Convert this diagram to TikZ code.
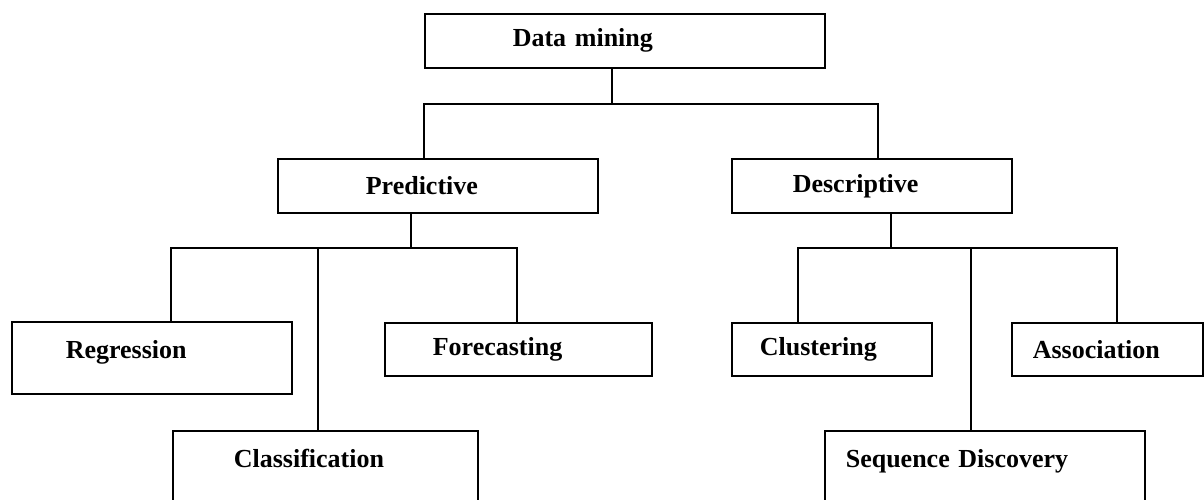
\documentclass[tikz,border=0pt]{standalone}
\usepackage{fontspec}
\setmainfont{Liberation Serif}

\tikzset{
  box/.style={draw,line width=1.6pt,rectangle,anchor=north west,align=left,inner ysep=0pt,
    font=\fontsize{26}{30}\selectfont\bfseries},
  link/.style={line width=1.6pt}
}
\newcommand{\lift}[1]{\rule[-#1pt]{0pt}{#1pt}}

\begin{document}
\begin{tikzpicture}[x=1pt,y=-1pt]
\useasboundingbox (0,0) rectangle (1204,500);
\clip (0,0) rectangle (1204,500);

\node[box,minimum height=54pt,inner xsep=88pt,text width=224pt] (dm) at (424,13) {Data mining};
\node[box,minimum height=54pt,inner xsep=88pt,text width=144pt] (pred) at (277,158) {Predictive};
\node[box,minimum height=54pt,inner xsep=61pt,text width=158pt] (desc) at (731,158) {Descriptive};
\node[box,minimum height=72pt,inner xsep=54pt,text width=172pt] (reg) at (11,321) {Regression\lift{17}};
\node[box,minimum height=53pt,inner xsep=48pt,text width=171pt] (fore) at (384,322) {Forecasting};
\node[box,minimum height=80pt,inner xsep=61pt,text width=183pt] (cls) at (172,430) {Classification\lift{24}};
\node[box,minimum height=53pt,inner xsep=28pt,text width=144pt] (clu) at (731,322) {Clustering};
\node[box,minimum height=53pt,inner xsep=21pt,text width=149pt] (asc) at (1011,322) {Association};
\node[box,minimum height=80pt,inner xsep=21pt,text width=278pt] (seq) at (824,430) {Sequence Discovery\lift{24}};

\coordinate (b1) at (612,104);
\coordinate (b2) at (411,248);
\coordinate (b3) at (891,248);
\coordinate (l1) at (424,104);
\coordinate (r1) at (878,104);
\coordinate (l2) at (171,248);
\coordinate (c2) at (318,248);
\coordinate (r2) at (517,248);
\coordinate (l3) at (798,248);
\coordinate (c3) at (971,248);
\coordinate (r3) at (1117,248);

\foreach \a/\b in {dm/b1,pred/b2,desc/b3}
\draw[link] (\a.south -| \b) -- (\b);

\draw[link] (l1 |- pred.north) -- (l1) -- (r1) -- (r1 |- desc.north);
\draw[link] (l2 |- reg.north) -- (l2) -- (r2) -- (r2 |- fore.north);
\draw[link] (l3 |- clu.north) -- (l3) -- (r3) -- (r3 |- asc.north);
\draw[link] (c2) -- (c2 |- cls.north);
\draw[link] (c3) -- (c3 |- seq.north);
\end{tikzpicture}
\end{document}
